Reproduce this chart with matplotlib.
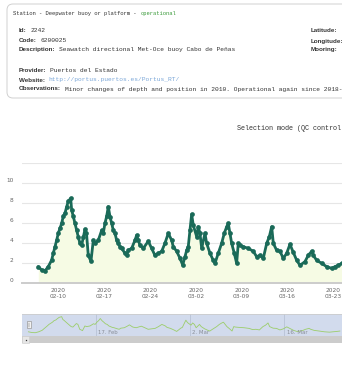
import numpy as np
import matplotlib
matplotlib.use("Agg")
import matplotlib.pyplot as plt
import matplotlib.dates as mdates
from matplotlib.patches import FancyBboxPatch, Rectangle
from datetime import datetime

# days after 2020-02-10 00:00 and significant wave height (m)
days = [-3.05, -2.54, -2.03, -1.53, -1.01, -0.76, -0.50, -0.24, 0.00, 0.26,
        0.52, 0.76, 1.02, 1.28, 1.53, 1.89, 2.05, 2.29, 2.55, 2.81,
        3.05, 3.31, 3.57, 3.82, 4.08, 4.31, 4.58, 4.99, 5.35, 5.60,
        6.11, 6.63, 6.87, 7.13, 7.39, 7.64, 7.90, 8.16, 8.40, 8.66,
        8.92, 9.16, 9.42, 9.68, 10.19, 10.45, 10.69, 11.21, 11.71, 11.97,
        12.22, 12.48, 12.98, 13.74, 14.26, 14.76, 15.27, 15.79, 16.29, 16.80,
        17.32, 17.56, 18.08, 18.59, 19.00, 19.35, 19.61, 19.85, 20.11, 20.37,
        20.62, 21.14, 21.38, 21.64, 21.90, 22.40, 22.66, 23.17, 23.67, 23.93,
        24.43, 24.95, 25.35, 25.72, 25.96, 26.22, 26.48, 26.88, 27.24, 27.49,
        27.75, 28.25, 29.02, 29.78, 30.30, 30.80, 31.31, 31.83, 32.23, 32.59,
        32.84, 33.35, 33.86, 34.36, 34.88, 35.38, 35.89, 36.41, 36.91, 37.67,
        38.18, 38.70, 38.94, 39.46, 40.22, 40.99, 41.75, 42.25, 42.76, 43.28]
hs = [1.66, 1.33, 1.25, 1.66, 2.33, 3.0, 3.66, 4.33, 5.0, 5.5,
      6.0, 6.7, 7.0, 7.66, 8.2, 8.5, 7.3, 6.7, 6.0, 5.3,
      4.66, 4.0, 3.8, 4.6, 5.4, 5.0, 2.8, 2.2, 4.3, 4.0,
      4.3, 5.3, 5.0, 6.0, 6.7, 7.66, 6.66, 6.0, 5.3, 5.0,
      4.3, 4.0, 3.66, 3.5, 3.0, 2.8, 3.3, 3.5, 4.3, 4.8,
      4.3, 3.8, 3.5, 4.2, 3.5, 2.8, 3.0, 3.2, 4.0, 5.0,
      4.3, 3.66, 3.2, 2.5, 1.83, 2.66, 3.3, 3.66, 5.3, 6.9,
      5.8, 4.66, 5.66, 5.0, 3.5, 5.0, 4.0, 3.0, 2.3, 2.0,
      3.0, 4.0, 5.0, 5.66, 6.0, 5.0, 4.0, 3.0, 2.0, 4.0,
      3.8, 3.66, 3.5, 3.2, 2.66, 2.8, 2.5, 4.0, 4.66, 5.66,
      4.0, 3.3, 3.2, 2.5, 3.0, 3.9, 3.1, 2.3, 1.8, 2.16,
      2.8, 3.2, 2.8, 2.3, 2.0, 1.66, 1.5, 1.66, 1.8, 2.0]
y_ticks = [0, 2, 4, 6, 8, 10]
week_ticks = ["2020-02-10", "2020-02-17", "2020-02-24", "2020-03-02",
              "2020-03-09", "2020-03-16", "2020-03-23"]
nav_ticks = ["2020-02-17", "2020-03-02", "2020-03-16"]
nav_labels = ["17. Feb", "2. Mar", "16. Mar"]

W, H = 342, 367
MONO = ["Liberation Mono", "DejaVu Sans Mono"]
SANS = ["Liberation Sans", "DejaVu Sans"]
base = mdates.date2num(datetime(2020, 2, 10))
t = base + np.array(days)


def box(x0, y0, x1, y1):
    return [x0 / W, 1 - y1 / H, (x1 - x0) / W, (y1 - y0) / H]


fig = plt.figure(figsize=(W / 100, H / 100), dpi=100)

# main chart
ax = fig.add_axes(box(22, 163.3, 342, 283.3))
ax.fill_between(t, hs, 0, color="#f6fbe4", lw=0, zorder=1)
ax.plot(t, hs, color="#1a6a58", lw=2.0, zorder=2, solid_capstyle="round")
ax.plot(t, hs, "o", color="#1a6a58", ms=3.4, mew=0, zorder=3)
ax.set_xlim(base - 5.54, base + 43.33)
ax.set_ylim(0, 12)
ax.set_yticks(y_ticks + [12])
ax.set_yticklabels([str(v) for v in y_ticks] + [""])
ax.yaxis.grid(True, color="#e6e6e6", lw=0.8)
ax.set_axisbelow(True)
ax.set_xticks([mdates.datestr2num(d) for d in week_ticks])
ax.xaxis.set_major_formatter(mdates.DateFormatter("%Y\n%m-%d"))
ax.tick_params(axis="y", length=0, pad=6, labelsize=4.2, labelcolor="#666666")
ax.tick_params(axis="x", length=0, pad=3.5, labelsize=4.2, labelcolor="#666666")
for lbl in ax.get_yticklabels():
    lbl.set_verticalalignment("bottom")
for s in ["top", "right", "left"]:
    ax.spines[s].set_visible(False)
ax.spines["bottom"].set_color("#cccccc")
ax.spines["bottom"].set_linewidth(1.4)
ax.patch.set_alpha(0)

# navigator
nav = fig.add_axes(box(22, 314, 342, 335.7))
nav.set_facecolor("#d2dbed")
nav.plot(t, hs, color="#9ccd6a", lw=0.6)
nav.set_xlim(base - 4.01, base + 43.6)
nav.set_ylim(-0.1, 9.7)
nav.set_xticks([mdates.datestr2num(d) for d in nav_ticks])
nav.xaxis.grid(True, color="#b8c2d6", lw=0.6)
nav.set_xticklabels([])
nav.set_yticks([])
nav.tick_params(length=0)
for s in nav.spines.values():
    s.set_visible(False)
nav.spines["top"].set_visible(True)
nav.spines["top"].set_color("#cccccc")
nav.spines["top"].set_linewidth(0.6)
for d, lab in zip(nav_ticks, nav_labels):
    nav.text(mdates.datestr2num(d) + 0.35, 1.2, lab, fontsize=3.9,
             color="#8a8f99", va="center", ha="left")

# overlay in pixel coordinates
ov = fig.add_axes([0, 0, 1, 1])
ov.set_xlim(0, W)
ov.set_ylim(H, 0)
ov.axis("off")

# scrollbar and handle
ov.add_patch(Rectangle((22, 336), 330, 7.3, fc="#cccccc", ec="none"))
ov.add_patch(Rectangle((22, 336), 7, 7.3, fc="#e6e6e6", ec="#cccccc", lw=0.4))
ov.plot([25.5], [339.6], "s", color="#333333", ms=0.9, mew=0)
ov.add_patch(Rectangle((27.3, 321.2), 3.4, 7, fc="#f2f2f2", ec="#999999", lw=0.5))
ov.plot([28.6, 28.6], [323, 326.5], color="#999999", lw=0.3)
ov.plot([29.4, 29.4], [323, 326.5], color="#999999", lw=0.3)

# title
ov.text(237, 129, "Selection mode (QC control)", fontsize=4.85,
        family=MONO, color="#333333", va="center", ha="left")

# info card
ov.add_patch(FancyBboxPatch((7, 4), 420, 94, boxstyle="round,pad=0,rounding_size=6",
                            fc="white", ec="#d0d0d0", lw=0.7))

dark = "#333333"
ov.text(12.7, 13, "Station - Deepwater buoy or platform - ", fontsize=3.94,
        family=MONO, color=dark, va="center", ha="left")
ov.text(12.7 + 39 * 3.28, 13, "operational", fontsize=3.94,
        family=MONO, color="#3a9a3a", va="center", ha="left")

# (y, label, value, value colour)
rows = [
    (31, "Id:", "2242", dark),
    (41, "Code:", "6200025", dark),
    (50, "Description:", "Seawatch directional Met-Oce buoy Cabo de Peñas", dark),
    (71, "Provider:", "Puertos del Estado", dark),
    (80, "Website:", "http://portus.puertos.es/Portus_RT/", "#7ba7d8"),
    (89, "Observations:",
     "Minor changes of depth and position in 2010. Operational again since 2018-04", dark),
]
renderer = fig.canvas.get_renderer()
for y, lab, val, col in rows:
    lt = ov.text(19, y, lab, fontsize=4.5, family=SANS, fontweight="bold",
                 color=dark, va="center", ha="left")
    x_end = lt.get_window_extent(renderer).x1
    ov.text(x_end + 3.8, y, val, fontsize=4.5, family=MONO, color=col,
            va="center", ha="left")
for y, lab in [(31, "Latitude:"), (41, "Longitude:"), (50, "Mooring:")]:
    ov.text(311, y, lab, fontsize=4.5, family=SANS, fontweight="bold",
            color=dark, va="center", ha="left")

fig.savefig("out.png", dpi=100)
